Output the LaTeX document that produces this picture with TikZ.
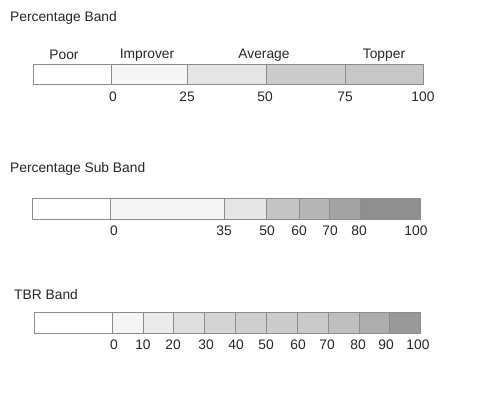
\documentclass[tikz,border=0pt]{standalone}
\usepackage{fontspec}
\setmainfont{Liberation Sans}
\begin{document}
\begin{tikzpicture}[x=1pt,y=-1pt,
  cell/.style={draw=black!45,line width=1pt},
  lbl/.style={inner sep=0pt,text=black!85,font=\fontsize{13.8}{16}\selectfont},
  ttl/.style={lbl,anchor=west}]
\useasboundingbox[fill=white] (0,0) rectangle (500,413);
% ---- Percentage Band ----
\node[ttl] (t1) at (10,17.5) {Percentage Band};
\foreach \a/\b/\c in {33/111/white,111/187/black!4,187/266/black!10,266/345/black!20,345/423/black!22}
  \draw[cell,fill=\c] (\a,64) rectangle (\b,84);
\node[lbl] (poor) at (64,55) {Poor};
\node[lbl] (impr) at (147,55) {Improver};
\node[lbl] (avg) at (264,55) {Average};
\node[lbl] (top) at (384,55) {Topper};
\foreach \x/\t/\n in {113/0/a,187/25/b,265/50/c,345/75/d,423/100/e}
  \node[lbl] (p\n) at (\x,97) {\t};
% ---- Percentage Sub Band ----
\node[ttl] (t2) at (10,168.5) {Percentage Sub Band};
\foreach \a/\b/\c in {32/110/white,110/224/black!4,224/266/black!10,266/299/black!23,299/329/black!29,329/360/black!36,360/420/black!44}
  \draw[cell,fill=\c] (\a,198) rectangle (\b,219);
\foreach \x/\t/\n in {114/0/a,224/35/b,267/50/c,299/60/d,330/70/e,359/80/f,416/100/g}
  \node[lbl] (s\n) at (\x,231) {\t};
% ---- TBR Band ----
\node[ttl] (t3) at (14,294.5) {TBR Band};
\foreach \a/\b/\c in {34/112/white,112/143/black!4,143/173/black!8,173/204/black!13,204/235/black!17,235/266/black!19,266/297/black!20,297/328/black!21,328/359/black!25,359/389/black!32,389/420/black!40}
  \draw[cell,fill=\c] (\a,312) rectangle (\b,333);
\foreach \x/\t/\n in {114/0/a,143/10/b,173/20/c,206/30/d,236/40/e,266/50/f,298/60/g,327/70/h,358/80/i,386/90/j,418/100/k}
  \node[lbl] (r\n) at (\x,345) {\t};
\end{tikzpicture}
\end{document}
